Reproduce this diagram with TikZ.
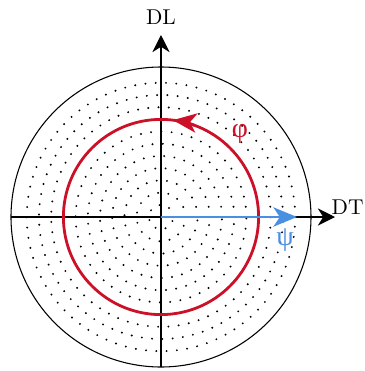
\documentclass[tikz,border=0pt]{standalone}
\usepackage{fontspec}
\newfontfamily\grk{Liberation Serif}
\usetikzlibrary{arrows.meta}
\definecolor{myred}{RGB}{204,16,40}
\definecolor{myblue}{RGB}{74,144,226}
\begin{document}
\begin{tikzpicture}[x=0.4664pt,y=0.4664pt,
  axis/.style={line width=0.6pt,-{Stealth[length=8pt,width=8pt,inset=2.5pt]}},
  ring/.style={line width=1pt,line cap=round,dash pattern=on 0pt off 4.8pt},
  vec/.style={line width=1.3pt},
  bigtip/.style={-{Stealth[length=11pt,width=9pt,inset=3pt]}}]
\useasboundingbox (-161,-154) rectangle (204,217);
\foreach \k in {1,...,11} \draw[ring] (0,0) circle ({12.2*\k});
\draw[line width=0.5pt] (0,0) circle (150);
\coordinate (O) at (0,0);
\coordinate (xl) at (-150,0);
\coordinate (xr) at (174,0);
\coordinate (yb) at (0,-150);
\coordinate (yt) at (0,182);
\draw[axis] (xl) -- (xr);
\draw[axis] (yb) -- (yt);
\node[anchor=east,inner sep=0.5pt] (DT) at (204,10) {DT};
\node[inner sep=1pt] (DL) at (0,200) {DL};
\draw[vec,myred] (O) circle (97.6);
\draw[vec,myred,bigtip] (70:97.6) arc (70:83:97.6);
\draw[vec,myblue,bigtip] (O) -- (136,0);
\node[text=myred,inner sep=0pt,font=\grk\fontsize{13}{15}\selectfont] (phi) at (79,83) {φ};
\node[text=myblue,inner sep=0pt,font=\grk\fontsize{13}{15}\selectfont] (psi) at (124,-23) {ψ};
\end{tikzpicture}
\end{document}
